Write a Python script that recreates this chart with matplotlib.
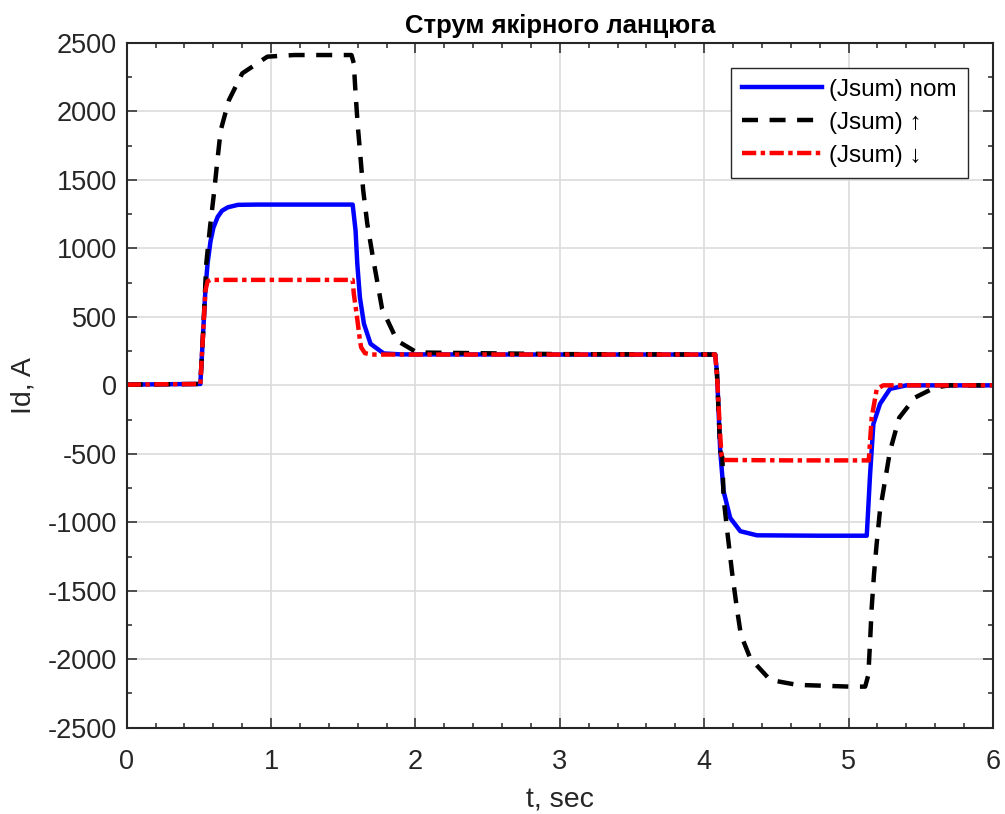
import matplotlib
matplotlib.use("Agg")
import matplotlib.pyplot as plt
from matplotlib.ticker import MultipleLocator

plt.rcParams['font.family'] = ['Liberation Sans', 'DejaVu Sans']
plt.rcParams['axes.unicode_minus'] = False

# values
t_nom = [0, 0.25, 0.51, 0.53, 0.545, 0.56, 0.58, 0.60, 0.63, 0.66, 0.70, 0.77, 0.9,
         1.2, 1.565, 1.585, 1.597, 1.615, 1.643, 1.689, 1.78, 1.9, 3.0,
         4.076, 4.088, 4.10, 4.111, 4.134, 4.18, 4.25, 4.365, 4.8, 5.126,
         5.149, 5.172, 5.218, 5.287, 5.40, 6.0]
j_nom = [5, 8, 10, 400, 700, 890, 1050, 1150, 1230, 1275, 1300, 1318, 1320,
         1320, 1320, 1131, 889, 643, 450, 303, 233, 226, 225,
         225, 100, -200, -480, -772, -968, -1065, -1095, -1098, -1098,
         -650, -282, -135, -26, 0, 0]

t_up = [0, 0.25, 0.51, 0.53, 0.551, 0.577, 0.604, 0.628, 0.651, 0.708, 0.80, 0.974,
        1.16, 1.557, 1.573, 1.585, 1.601, 1.619, 1.638, 1.666, 1.705, 1.769,
        1.873, 2.01, 3.0,
        4.076, 4.088, 4.111, 4.126, 4.134, 4.157, 4.192, 4.226, 4.254, 4.319,
        4.457, 4.642, 5.01, 5.115, 5.137, 5.149, 5.16, 5.176, 5.194, 5.217,
        5.252, 5.287, 5.351, 5.46, 5.6, 5.7, 6.0]
j_up = [5, 8, 10, 400, 889, 1155, 1400, 1643, 1863, 2083, 2278, 2400,
        2412, 2412, 2351, 2131, 1887, 1668, 1424, 1181, 936, 558,
        326, 240, 228,
        225, 100, -480, -528, -821, -1041, -1358, -1626, -1821, -1993,
        -2151, -2187, -2200, -2200, -2114, -1870, -1626, -1382, -1163, -919,
        -699, -480, -236, -89, -15, 0, 0]

t_dn = [0, 0.25, 0.51, 0.53, 0.545, 0.56, 0.58, 1.0, 1.565, 1.573, 1.59, 1.601,
        1.615, 1.624, 1.65, 1.70, 3.0,
        4.076, 4.09, 4.10, 4.11, 4.12, 4.13, 4.6, 5.14, 5.16, 5.195, 5.24, 6.0]
j_dn = [5, 8, 10, 400, 690, 760, 770, 770, 770, 667, 540, 450,
        330, 277, 235, 225, 225,
        225, 50, -150, -350, -516, -545, -548, -548, -236, -28, 0, 0]

labels = ['(Jsum) nom', '(Jsum) \u2191', '(Jsum) \u2193']

fig = plt.figure(figsize=(10.05, 8.14), dpi=100)
ax = fig.add_axes([0.1261, 0.106, 0.988 - 0.1261, 0.9472 - 0.106])

ax.plot(t_nom, j_nom, color='#0000ff', lw=3.2, label=labels[0])
ax.plot(t_up, j_up, color='black', lw=3.2, dashes=(3.6, 2.6), label=labels[1])
ax.plot(t_dn, j_dn, color='#ff0000', lw=3.2, dashes=(3.2, 1.0, 1.0, 1.0), label=labels[2])

ax.set_xlim(0, 6)
ax.set_ylim(-2500, 2500)
ax.xaxis.set_major_locator(MultipleLocator(1))
ax.xaxis.set_minor_locator(MultipleLocator(0.2))
ax.yaxis.set_major_locator(MultipleLocator(500))
ax.yaxis.set_minor_locator(MultipleLocator(250))
ax.grid(True, which='major', color='#dcdcdc', lw=1.2)
ax.set_axisbelow(True)

dark = '#262626'
for s in ax.spines.values():
    s.set_color(dark)
    s.set_linewidth(1.5)
ax.tick_params(which='both', direction='in', top=True, right=True, colors=dark,
               labelsize=19.5)
ax.tick_params(which='major', length=7, width=1.1)
ax.tick_params(which='minor', length=3.5, width=1.1)
ax.tick_params(axis='x', which='major', pad=15)
ax.tick_params(axis='y', which='major', pad=7)

ax.set_xlabel('t, sec', fontsize=20.5, color=dark, labelpad=9)
ax.set_ylabel('Id, A', fontsize=20.5, color=dark, labelpad=8)
ax.set_title('Струм якірного ланцюга', fontsize=18.5, fontweight='bold', pad=7)

leg = ax.legend(loc='upper right', bbox_to_anchor=(0.971, 0.9635), borderaxespad=0,
                fontsize=17.5, fancybox=False, edgecolor=dark, framealpha=1,
                handlelength=3.3, handletextpad=0.3, labelspacing=0.45,
                borderpad=0.45)
leg.get_frame().set_linewidth(1.0)

fig.savefig('out.png', dpi=100)
